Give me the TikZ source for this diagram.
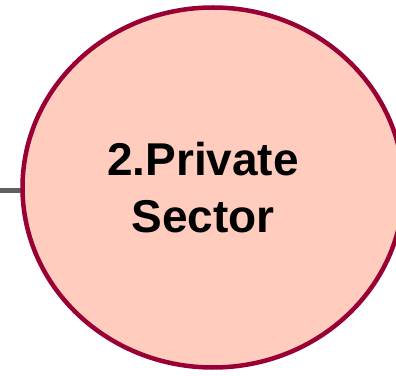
\documentclass[tikz,border=0pt]{standalone}
\usepackage{fontspec}
\setmainfont{Liberation Sans}
\usetikzlibrary{shapes.geometric,backgrounds}
\definecolor{sectorfill}{RGB}{255,204,190}
\definecolor{sectorline}{RGB}{153,0,51}
\definecolor{linkgray}{RGB}{96,96,96}
\tikzset{
  sectorbubble/.style={
    ellipse, draw=sectorline, fill=sectorfill, line width=4.5pt,
    minimum width=381pt, minimum height=360pt, inner sep=0pt
  },
  sectorlabel/.style={
    align=center, inner sep=0pt,
    font=\fontsize{46}{57}\selectfont\bfseries
  },
  link/.style={draw=linkgray, line width=5pt}
}

\begin{document}
\begin{tikzpicture}[x=1pt,y=1pt]
  \useasboundingbox (0,0) rectangle (396,375);

  \node[sectorbubble] (sector) at (213,187.5) {};
  \node[sectorlabel] (label) at (203,187) {2.Private\\Sector};

  % line coming in from the left
  \coordinate (start) at (0,184.5);
  \begin{scope}[on background layer]
    \draw[link] (start) -- (start -| sector.center);
  \end{scope}
\end{tikzpicture}
\end{document}
